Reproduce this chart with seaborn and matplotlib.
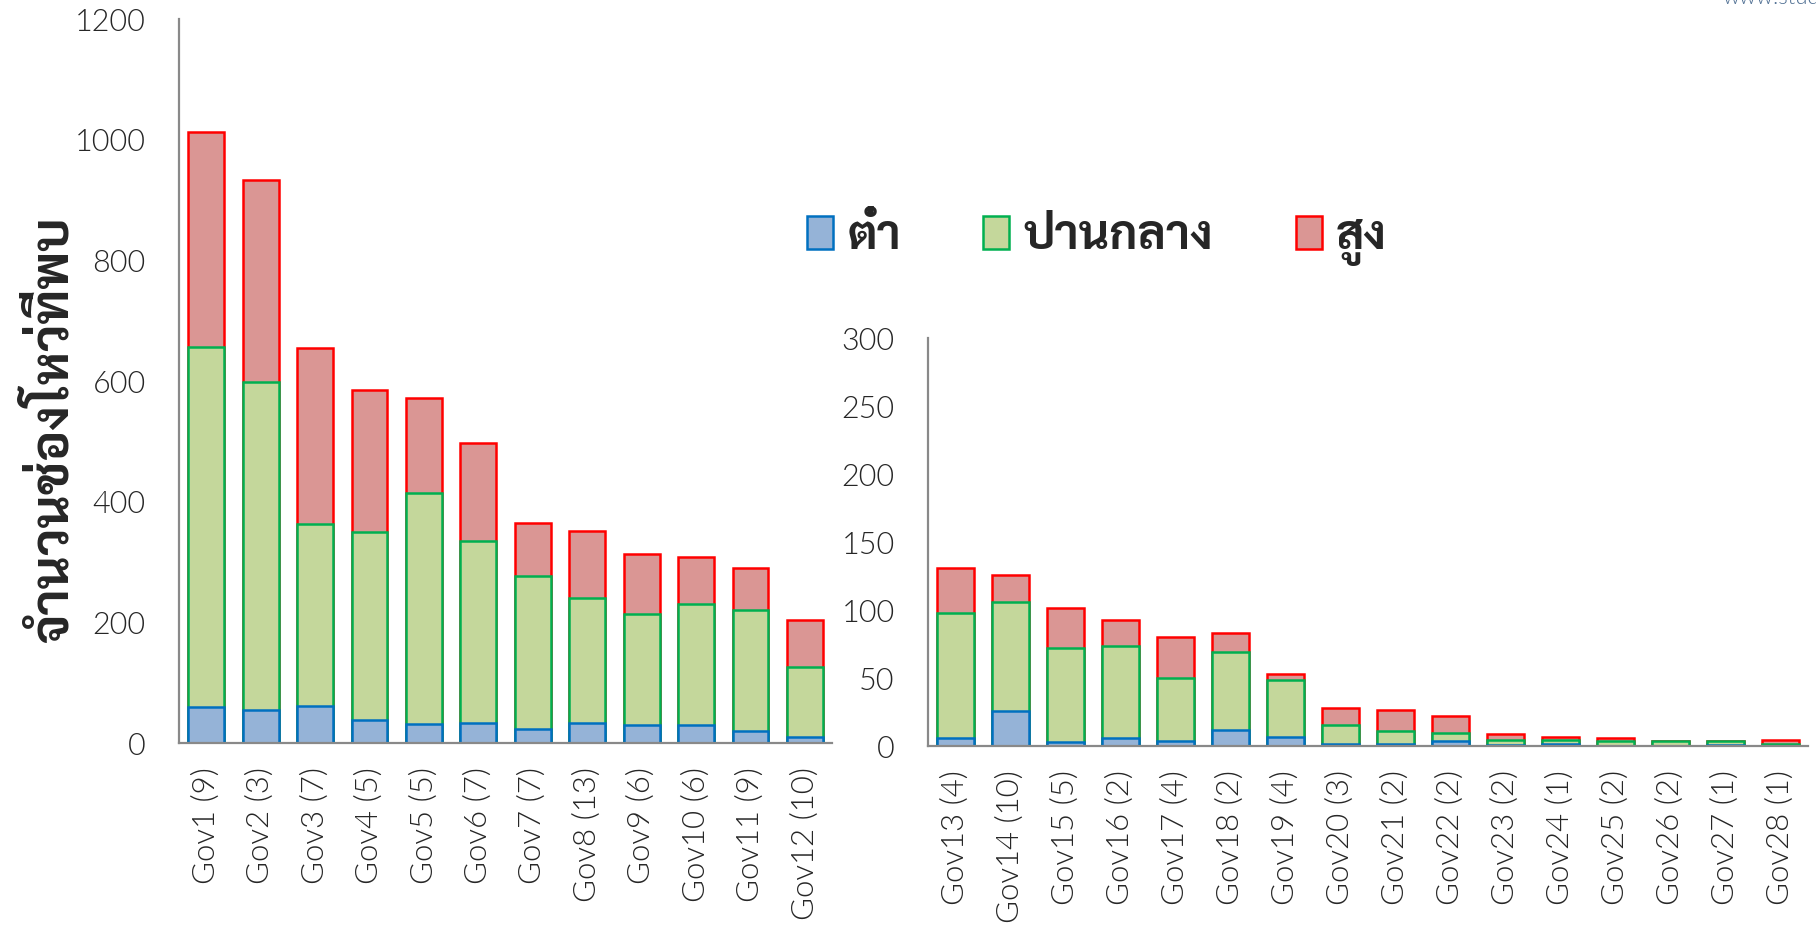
import matplotlib
matplotlib.use("Agg")
import matplotlib.pyplot as plt
from matplotlib import font_manager
import seaborn as sns
import pandas as pd

# ข้อมูลจำนวนช่องโหว่ แยกตามระดับความรุนแรง
gov_big = ['Gov1 (9)', 'Gov2 (3)', 'Gov3 (7)', 'Gov4 (5)', 'Gov5 (5)', 'Gov6 (7)',
           'Gov7 (7)', 'Gov8 (13)', 'Gov9 (6)', 'Gov10 (6)', 'Gov11 (9)', 'Gov12 (10)']
low_big = [60, 55, 62, 38, 32, 34, 23, 34, 30, 30, 20, 10]
mid_big = [597, 544, 301, 312, 383, 301, 254, 207, 184, 201, 200, 116]
high_big = [356, 335, 292, 236, 157, 162, 88, 111, 100, 77, 70, 78]

gov_small = ['Gov13 (4)', 'Gov14 (10)', 'Gov15 (5)', 'Gov16 (2)', 'Gov17 (4)', 'Gov18 (2)',
             'Gov19 (4)', 'Gov20 (3)', 'Gov21 (2)', 'Gov22 (2)', 'Gov23 (2)', 'Gov24 (1)',
             'Gov25 (2)', 'Gov26 (2)', 'Gov27 (1)', 'Gov28 (1)']
low_small = [6, 26, 3, 6, 4, 12, 7, 2, 2, 4, 1, 2, 0, 0, 1, 0]
mid_small = [92, 80, 69, 68, 46, 57, 42, 14, 9, 6, 4, 3, 4, 4, 3, 2]
high_small = [33, 20, 30, 19, 30, 14, 4, 12, 16, 12, 4, 2, 2, 0, 0, 3]

levels = ['ต่ำ', 'ปานกลาง', 'สูง']
fills = ['#95B3D7', '#C4D79B', '#DA9694']
edges = ['#0070C0', '#00B050', '#FF0000']

sns.set_style('white')

# เลือกฟอนต์ไทยที่มีในเครื่อง
installed = {f.name for f in font_manager.fontManager.ttflist}
thai_font = next(f for f in ['Sarabun', 'Noto Sans Thai Looped', 'Noto Sans Thai',
                             'Bai Jamjuree', 'Athiti'] if f in installed)
plt.rcParams['font.family'] = ['Lato', thai_font, 'DejaVu Sans']
plt.rcParams['font.weight'] = 300


def stacked(ax, names, low, mid, high, ymax, step):
    df = pd.DataFrame({'gov': names, 'low': low, 'mid': mid, 'high': high})
    df['c_low'] = df['low']
    df['c_mid'] = df['low'] + df['mid']
    df['c_high'] = df['c_mid'] + df['high']
    # วาดจากยอดรวมลงมา ให้แท่งล่างทับแท่งบน
    for col, fc, ec, lab in zip(['c_high', 'c_mid', 'c_low'], fills[::-1], edges[::-1], levels[::-1]):
        sns.barplot(data=df, x='gov', y=col, color=fc, edgecolor=ec, linewidth=1.8,
                    saturation=1, width=0.66, ax=ax, label=lab)
    ax.set_ylim(0, ymax)
    ax.set_yticks(range(0, ymax + 1, step))
    ax.set_xlim(-0.5, len(names) - 0.5)
    ax.set_xlabel('')
    ax.set_ylabel('')
    ax.tick_params(axis='x', labelrotation=90, labelsize=22.5, length=0, pad=17)
    ax.tick_params(axis='y', labelsize=22, length=0, pad=24)
    for s in ['top', 'right']:
        ax.spines[s].set_visible(False)
    for s in ['left', 'bottom']:
        ax.spines[s].set_color('#898989')
        ax.spines[s].set_linewidth(1.6)
    if ax.get_legend():
        ax.get_legend().remove()


fig = plt.figure(figsize=(18.16, 9.32), dpi=100)
ax1 = fig.add_axes([0.0986, 0.2025, 0.3596, 0.7771])
ax2 = fig.add_axes([0.511, 0.1992, 0.4846, 0.4381])

stacked(ax1, gov_big, low_big, mid_big, high_big, 1200, 200)
stacked(ax2, gov_small, low_small, mid_small, high_small, 300, 50)

fig.text(54 / 1816, 1 - 430 / 932, 'จำนวนช่องโหว่ที่พบ', rotation=90, ha='center', va='center',
         fontsize=37, fontweight='bold', family=[thai_font])

handles, labels = ax2.get_legend_handles_labels()
order = [labels.index(l) for l in levels]
fig.legend([handles[i] for i in order], levels, ncol=3, loc='center',
           bbox_to_anchor=(1097 / 1816, 1 - 240 / 932), frameon=False,
           prop={'family': thai_font, 'weight': 'bold', 'size': 34},
           handlelength=0.55, handleheight=0.7, handletextpad=0.3, columnspacing=1.75)

fig.text(1722 / 1816, 1.002, 'www.studocu.com', ha='left', va='center',
         fontsize=16, color='#4F6F93')

fig.savefig('out.png', dpi=100)
